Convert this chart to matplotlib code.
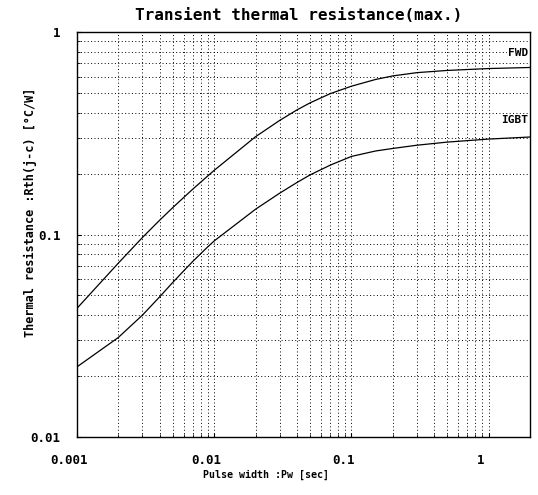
import numpy as np
import matplotlib
matplotlib.use("Agg")
import matplotlib.pyplot as plt
import matplotlib.transforms as mtransforms
from matplotlib.ticker import LogLocator, FixedLocator, NullFormatter

pulse_width = [0.001, 0.002, 0.003, 0.004, 0.005, 0.006, 0.007, 0.009, 0.01,
               0.02, 0.03, 0.04, 0.05, 0.07, 0.1, 0.15, 0.2, 0.3, 0.5, 1, 2]
fwd = [0.0432, 0.0722, 0.0967, 0.1176, 0.136, 0.1525, 0.1678, 0.195, 0.2075,
       0.304, 0.366, 0.412, 0.447, 0.496, 0.540, 0.583, 0.607, 0.630, 0.646, 0.660, 0.668]
igbt = [0.0222, 0.0310, 0.0400, 0.0492, 0.0581, 0.0662, 0.0738, 0.0871, 0.0930,
        0.1333, 0.160, 0.1805, 0.197, 0.220, 0.243, 0.2585, 0.266, 0.276, 0.286, 0.296, 0.303]

x_ticks = [0.001, 0.01, 0.1, 1]
x_ticklabels = ["0.001", "0.01", "0.1", "1"]
y_ticks = [0.01, 0.1, 1]
y_ticklabels = ["0.01", "0.1", "1"]

font = "DejaVu Sans Mono"
W, H = 538, 495

fig = plt.figure(figsize=(W / 100, H / 100), dpi=100)
ax = fig.add_axes([77 / W, 1 - 437 / H, (530 - 77) / W, (437 - 32) / H])

ax.plot(pulse_width, fwd, color="black", lw=0.9)
ax.plot(pulse_width, igbt, color="black", lw=0.9)

ax.set_xscale("log")
ax.set_yscale("log")
ax.set_xlim(0.001, 2)
ax.set_ylim(0.01, 1)

ax.xaxis.set_major_locator(FixedLocator(x_ticks))
ax.yaxis.set_major_locator(FixedLocator(y_ticks))
ax.set_xticklabels(x_ticklabels, family=font, fontsize=9, fontweight="bold")
ax.set_yticklabels(y_ticklabels, family=font, fontsize=9, fontweight="bold")
ax.xaxis.set_minor_locator(LogLocator(base=10, subs=np.arange(2, 10)))
ax.yaxis.set_minor_locator(LogLocator(base=10, subs=np.arange(2, 10)))
ax.xaxis.set_minor_formatter(NullFormatter())
ax.yaxis.set_minor_formatter(NullFormatter())
ax.tick_params(which="major", direction="in", length=3, width=0.8)
ax.tick_params(axis="x", which="major", pad=12)
ax.tick_params(axis="y", which="major", pad=12)
ax.tick_params(which="minor", direction="in", length=2, width=0.6)

# shift x tick labels slightly left, as in the reference
shift = mtransforms.ScaledTranslation(-8 / 100, 0, fig.dpi_scale_trans)
for lbl in ax.get_xticklabels():
    lbl.set_transform(lbl.get_transform() + shift)

ax.grid(True, which="both", color="black", linestyle=(0, (1, 2.5)), linewidth=0.7)
for s in ax.spines.values():
    s.set_linewidth(1.0)
    s.set_color("black")

ax.text(0.996, 0.79, "FWD", transform=ax.get_yaxis_transform(), ha="right", va="center",
        family=font, fontsize=8, fontweight="bold",
        bbox=dict(facecolor="white", edgecolor="none", pad=0.5))
ax.text(0.996, 0.367, "IGBT", transform=ax.get_yaxis_transform(), ha="right", va="center",
        family=font, fontsize=8, fontweight="bold",
        bbox=dict(facecolor="white", edgecolor="none", pad=0.5))

fig.text(299 / W, 1 - 15 / H, "Transient thermal resistance(max.)", ha="center", va="center",
         family=font, fontsize=11.5, fontweight="bold")
fig.text(266 / W, 1 - 475 / H, "Pulse width :Pw [sec]", ha="center", va="center",
         family=font, fontsize=7.2, fontweight="bold")
fig.text(30 / W, 1 - 212 / H, "Thermal resistance :Rth(j-c) [\u00b0C/W]", ha="center", va="center",
         rotation=90, family=font, fontsize=8.6, fontweight="bold")

fig.savefig("out.png", dpi=100, facecolor="white")
